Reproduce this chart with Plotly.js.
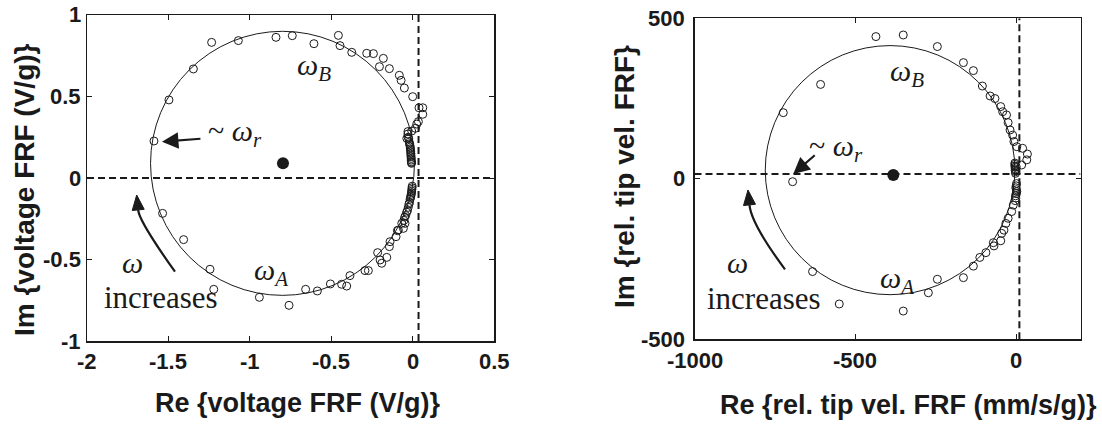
<!DOCTYPE html>
<html>
<head>
<meta charset="utf-8">
<script src="https://cdn.plot.ly/plotly-3.0.1.min.js"></script>
<style>html,body{margin:0;padding:0;background:#fff;}#chart{width:1102px;height:425px;}</style>
</head>
<body>
<div id="chart"></div>
<script>
// ---- Left panel: voltage FRF (V/g) ----
const leftRe = [
  -1.589,-1.497,-1.347,-1.235,-1.071,-0.840,-0.740,-0.607,-0.457,-0.447,-0.375,-0.283,-0.242,-0.181,-0.205,-0.144,-0.083,-0.072,-0.052,-0.001,
  0.038,0.061,0.061,0.034,0.024,0.016,-0.007,-0.030,
  -0.037,-0.030,-0.028,-0.025,-0.022,-0.020,-0.018,-0.016,-0.015,-0.014,-0.013,-0.012,-0.012,-0.011,-0.010,-0.010,-0.009,-0.008,-0.008,
  -0.004,-0.005,-0.006,-0.007,-0.008,-0.010,-0.012,-0.014,-0.017,-0.020,-0.024,-0.028,-0.033,-0.038,-0.044,-0.050,-0.055,
  -1.536,-1.407,-1.245,-1.222,-0.942,-0.760,-0.658,-0.586,-0.506,-0.437,-0.406,-0.386,-0.294,-0.273,-0.216,-0.201,-0.191,-0.160,
  -0.144,-0.140,-0.103,-0.095,-0.089,-0.068,-0.058,-0.048
];
const leftIm = [
  0.227,0.479,0.669,0.832,0.843,0.863,0.873,0.824,0.875,0.812,0.771,0.765,0.763,0.734,0.683,0.671,0.630,0.599,0.552,0.499,
  0.431,0.431,0.391,0.346,0.331,0.305,0.288,0.285,
  0.243,0.27,0.25,0.24,0.22,0.21,0.20,0.19,0.18,0.17,0.16,0.15,0.14,0.13,0.12,0.11,0.10,0.095,0.09,
  -0.05,-0.06,-0.07,-0.08,-0.09,-0.10,-0.11,-0.12,-0.13,-0.15,-0.16,-0.18,-0.20,-0.21,-0.23,-0.24,-0.26,
  -0.217,-0.378,-0.560,-0.683,-0.732,-0.781,-0.683,-0.693,-0.650,-0.652,-0.663,-0.599,-0.568,-0.568,-0.458,-0.503,-0.523,-0.487,
  -0.421,-0.391,-0.360,-0.323,-0.319,-0.278,-0.309,-0.278
];
const leftCenterRe = [-0.797];
const leftCenterIm = [0.09];
const leftCircle = [-0.80, 0.09, 0.81];   // fitted circle: centre Re, centre Im, radius
const leftXTicks = [-2, -1.5, -1, -0.5, 0, 0.5];
const leftXTickText = ['-2', '-1.5', '-1', '-0.5', '0', '0.5'];
const leftYTicks = [-1, -0.5, 0, 0.5, 1];
const leftYTickText = ['-1', '-0.5', '0', '0.5', '1'];
const leftAxisLines = [0.035, 0];  // vertical dashed Re, horizontal dashed Im

// ---- Right panel: relative tip velocity FRF (mm/s/g) ----
const rightRe = [
  -724,-608,-695,-436,-351,-245,-164,-133,-105,-81,-66,-48,-42,-30,-25,-19,-11,-7,2,20,35,33,17,0,
  -4,-4,-4,-3,-3,-3,-2,-2,
  1,0,-1,1,2,0,-2,-1,-3,
  -9,-14,-25,-32,-38,-45,-48,-69,-71,-94,-113,-133,-164,-245,-273,-351,-633,-550
];
const rightIm = [
  206,294,-9,443,448,412,362,337,289,258,250,225,209,199,175,152,136,116,100,95,77,59,43,38,
  49,45,40,36,31,27,22,17,
  -15,-22,-28,-34,-40,-46,-53,-60,-68,
  -82,-102,-123,-139,-160,-170,-193,-209,-199,-230,-245,-272,-308,-313,-355,-412,-289,-390
];
const rightCenterRe = [-382];
const rightCenterIm = [12];
const rightCircle = [-392, 27, 388];
const rightXTicks = [-1000, -500, 0];
const rightXTickText = ['-1000', '-500', '0'];
const rightYTicks = [-500, 0, 500];
const rightYTickText = ['-500', '0', '500'];
const rightAxisLines = [10, 15];

const ink = '#1a1a1a';
const sans = 'Liberation Sans, Arial, Helvetica, sans-serif';
const serif = 'Liberation Serif, Times New Roman, serif';

function openPts(x, y, xa, ya) {
  return {x: x, y: y, xaxis: xa, yaxis: ya, type: 'scatter', mode: 'markers', cliponaxis: false,
    marker: {symbol: 'circle-open', size: 8, color: ink, line: {width: 1, color: ink}}, hoverinfo: 'skip'};
}
function dot(x, y, xa, ya) {
  return {x: x, y: y, xaxis: xa, yaxis: ya, type: 'scatter', mode: 'markers',
    marker: {symbol: 'circle', size: 12, color: ink}, hoverinfo: 'skip'};
}

const data = [
  openPts(leftRe, leftIm, 'x', 'y'),
  dot(leftCenterRe, leftCenterIm, 'x', 'y'),
  openPts(rightRe, rightIm, 'x2', 'y2'),
  dot(rightCenterRe, rightCenterIm, 'x2', 'y2')
];

function axis(domain, range, tv, anchor) {
  return {domain: domain, range: range, tickmode: 'array', tickvals: tv, showticklabels: false,
    ticks: 'inside', ticklen: 5, tickwidth: 1, tickcolor: ink, mirror: 'ticks',
    showline: true, linecolor: ink, linewidth: 1.5, showgrid: false, zeroline: false,
    fixedrange: true, anchor: anchor};
}

const dashStyle = {color: ink, width: 2, dash: '7px,4px'};
const shapes = [
  {type: 'circle', xref: 'x', yref: 'y', x0: leftCircle[0] - leftCircle[2], x1: leftCircle[0] + leftCircle[2],
   y0: leftCircle[1] - leftCircle[2], y1: leftCircle[1] + leftCircle[2], line: {color: ink, width: 1}},
  {type: 'line', xref: 'x', yref: 'y', x0: leftAxisLines[0], x1: leftAxisLines[0], y0: -1, y1: 1, line: dashStyle},
  {type: 'line', xref: 'x', yref: 'y', x0: -2, x1: 0.5, y0: leftAxisLines[1], y1: leftAxisLines[1], line: dashStyle},
  // curved "omega increases" arrow: shaft + head
  {type: 'path', xref: 'x', yref: 'y', path: 'M -1.460,-0.575 Q -1.684,-0.26 -1.6857,-0.1957', line: {color: ink, width: 2.2}},
  {type: 'path', xref: 'x', yref: 'y', path: 'M -1.6949,-0.1043 L -1.6489,-0.1920 L -1.7225,-0.1994 Z',
   fillcolor: ink, line: {color: ink, width: 1}},

  {type: 'circle', xref: 'x2', yref: 'y2', x0: rightCircle[0] - rightCircle[2], x1: rightCircle[0] + rightCircle[2],
   y0: rightCircle[1] - rightCircle[2], y1: rightCircle[1] + rightCircle[2], line: {color: ink, width: 1}},
  {type: 'line', xref: 'x2', yref: 'y2', x0: rightAxisLines[0], x1: rightAxisLines[0], y0: -500, y1: 500, line: dashStyle},
  {type: 'line', xref: 'x2', yref: 'y2', x0: -1000, x1: 200, y0: rightAxisLines[1], y1: rightAxisLines[1], line: dashStyle},
  {type: 'path', xref: 'x2', yref: 'y2', path: 'M -718.7,-281.9 Q -824,-140 -829.0,-81.3', line: {color: ink, width: 2.2}},
  {type: 'path', xref: 'x2', yref: 'y2', path: 'M -833.7,-34.9 L -810.4,-79.4 L -847.7,-83.2 Z',
   fillcolor: ink, line: {color: ink, width: 1}}
];

function txt(xref, yref, x, y, text, size) {
  return {xref: xref, yref: yref, x: x, y: y, text: text, showarrow: false,
    xanchor: 'center', yanchor: 'middle', font: {family: serif, size: size || 30, color: ink}};
}
function arrow(xref, yref, x, y, ax, ay) {
  return {xref: xref, yref: yref, x: x, y: y, ax: ax, ay: ay, text: '', showarrow: true,
    arrowhead: 2, arrowsize: 1.5, arrowwidth: 2.2, arrowcolor: ink, standoff: 0};
}
function title(x, y, text, size, angle) {
  return {xref: 'paper', yref: 'paper', x: x, y: y, text: '<b>' + text + '</b>', showarrow: false, textangle: angle || 0,
    xanchor: 'center', yanchor: 'middle', font: {family: sans, size: size, color: ink}};
}
const tickFont = {family: sans, size: 22, color: ink};
function xTickLabels(xref, vals, texts, yPx) {
  return vals.map(function (v, i) {
    return {xref: xref, yref: 'paper', x: v, y: 1 - yPx / 425, text: '<b>' + texts[i] + '</b>',
      showarrow: false, xanchor: 'center', yanchor: 'middle', font: tickFont};
  });
}
function yTickLabels(yref, vals, texts, axisPx, gap) {
  return vals.map(function (v, i) {
    return {xref: 'paper', yref: yref, x: axisPx / 1102, y: v, xshift: -gap, text: '<b>' + texts[i] + '</b>',
      showarrow: false, xanchor: 'right', yanchor: 'middle', font: tickFont};
  });
}

const annotations = [
  txt('x', 'y', -0.607, 0.681, '<i>ω</i><sub><i>B</i></sub>'),
  txt('x', 'y', -1.091, 0.276, '~ <i>ω</i><sub><i>r</i></sub>'),
  arrow('x', 'y', -1.540, 0.223, 40, -3),
  txt('x', 'y', -1.718, -0.521, '<i>ω</i>'),
  txt('x', 'y', -1.546, -0.736, 'increases', 31),
  txt('x', 'y', -0.870, -0.577, '<i>ω</i><sub><i>A</i></sub>'),

  txt('x2', 'y2', -338, 331, '<i>ω</i><sub><i>B</i></sub>'),
  txt('x2', 'y2', -560, 96, '~ <i>ω</i><sub><i>r</i></sub>'),
  arrow('x2', 'y2', -693, 15, 23, -20),
  txt('x2', 'y2', -867, -262, '<i>ω</i>'),
  txt('x2', 'y2', -784, -374, 'increases', 31),
  txt('x2', 'y2', -372, -314, '<i>ω</i><sub><i>A</i></sub>'),

  title(298 / 1102, 1 - 403 / 425, 'Re {voltage FRF (V/g)}', 27),
  title(25 / 1102, 1 - 190 / 425, 'Im {voltage FRF (V/g)}', 28, -90),
  title(908 / 1102, 1 - 405 / 425, 'Re {rel. tip vel. FRF (mm/s/g)}', 27),
  title(624 / 1102, 1 - 177 / 425, 'Im {rel. tip vel. FRF}', 28, -90)
].concat(
  xTickLabels('x', leftXTicks, leftXTickText, 361),
  yTickLabels('y', leftYTicks, leftYTickText, 87, 4),
  xTickLabels('x2', rightXTicks, rightXTickText, 360),
  yTickLabels('y2', rightYTicks, rightYTickText, 694.5, 8)
);

const layout = {
  width: 1102, height: 425, autosize: false,
  margin: {l: 0, r: 0, t: 0, b: 0, pad: 0},
  paper_bgcolor: '#fff', plot_bgcolor: '#fff',
  showlegend: false, hovermode: false,
  xaxis: axis([87 / 1102, 494.3 / 1102], [-2, 0.5], leftXTicks, 'y'),
  yaxis: axis([1 - 341 / 425, 1 - 15 / 425], [-1, 1], leftYTicks, 'x'),
  xaxis2: axis([694.5 / 1102, 1080.5 / 1102], [-1000, 200], rightXTicks, 'y2'),
  yaxis2: axis([1 - 339.3 / 425, 1 - 18.3 / 425], [-500, 500], rightYTicks, 'x2'),
  shapes: shapes,
  annotations: annotations
};

Plotly.newPlot('chart', data, layout, {staticPlot: true, displayModeBar: false});
</script>
</body>
</html>
